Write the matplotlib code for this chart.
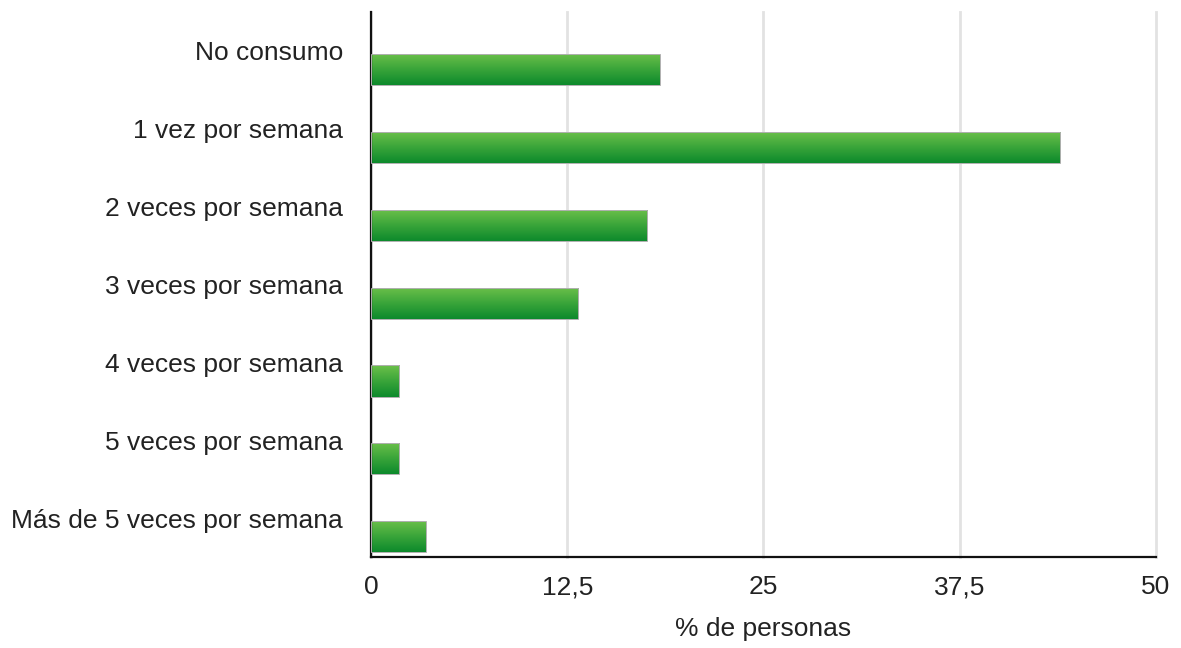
import numpy as np
import matplotlib.pyplot as plt
from matplotlib.colors import LinearSegmentedColormap

categories = [
    "No consumo",
    "1 vez por semana",
    "2 veces por semana",
    "3 veces por semana",
    "4 veces por semana",
    "5 veces por semana",
    "Más de 5 veces por semana",
]
percent = [18.4, 43.9, 17.6, 13.2, 1.8, 1.8, 3.5]
xticks = [0, 12.5, 25, 37.5, 50]
xtick_labels = ["0", "12,5", "25", "37,5", "50"]

plt.rcParams["font.family"] = ["Liberation Sans", "DejaVu Sans"]

fig = plt.figure(figsize=(11.81, 6.48), dpi=100)
ax = fig.add_axes([0.3141, 0.1404, 0.6647, 0.8411])

green = LinearSegmentedColormap.from_list("green", ["#6cc04a", "#3aa53a", "#0d8a2c"])
grad = np.linspace(0, 1, 64).reshape(-1, 1)

y = np.arange(len(categories))
offset = 0.24
height = 0.4

bars = ax.barh(y + offset, percent, height=height, color="none",
               edgecolor="#b0b0b0", linewidth=0.7, zorder=3)
for bar in bars:
    x0, y0 = bar.get_x(), bar.get_y()
    w, h = bar.get_width(), bar.get_height()
    im = ax.imshow(grad, cmap=green, aspect="auto",
                   extent=(x0, x0 + w, y0 + h, y0), zorder=2,
                   interpolation="bilinear")
    im.set_clip_path(bar)

ax.set_xlim(0, 50)
ax.set_ylim(len(categories) - 0.5, -0.5)
ax.set_aspect("auto")

ax.set_yticks(y)
ax.set_yticklabels(categories, fontsize=19, color="#222222")
ax.set_xticks(xticks)
ax.set_xticklabels(xtick_labels, fontsize=19, color="#222222")
ax.tick_params(axis="both", length=0)
ax.tick_params(axis="x", pad=13)
ax.tick_params(axis="y", pad=20)

ax.grid(axis="x", color="#e2e2e2", linewidth=2, zorder=0)
for gl in ax.get_xgridlines():
    gl.set_clip_on(False)
ax.set_axisbelow(True)

for side in ["top", "right"]:
    ax.spines[side].set_visible(False)
for side in ["left", "bottom"]:
    ax.spines[side].set_color("#111111")
    ax.spines[side].set_linewidth(1.6)

ax.set_xlabel("% de personas", fontsize=19, color="#222222", labelpad=13)

fig.savefig("out.png", dpi=100)
